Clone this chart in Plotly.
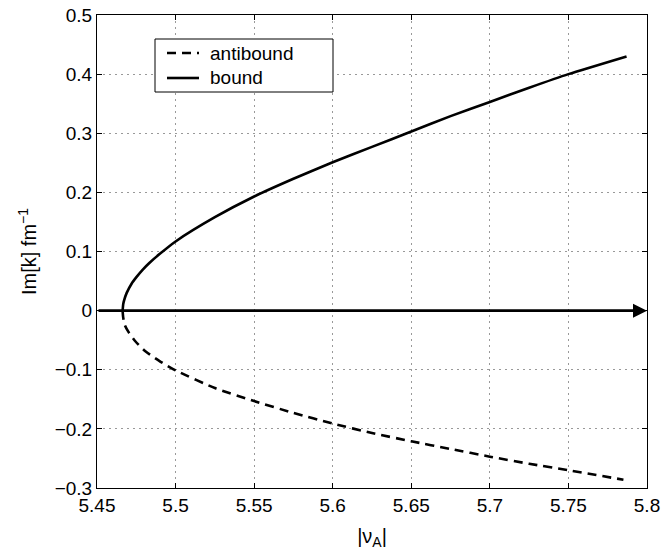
import plotly.graph_objects as go

# Bound-state branch: |nu_A| versus Im[k] (fm^-1)
bound_nu = [5.4663, 5.4667, 5.4672, 5.4689, 5.4721, 5.4752, 5.4790, 5.4833,
            5.4900, 5.5000, 5.5250, 5.5500, 5.5750, 5.6000, 5.6250, 5.6500,
            5.6750, 5.7000, 5.7250, 5.7500, 5.7870]
bound_im = [0.000, 0.011, 0.017, 0.030, 0.046, 0.057, 0.069, 0.0805,
            0.096, 0.117, 0.158, 0.193, 0.223, 0.251, 0.277, 0.303,
            0.329, 0.353, 0.377, 0.400, 0.430]

# Antibound branch
antibound_nu = [5.4663, 5.4666, 5.4671, 5.4678, 5.4705, 5.4741, 5.4800, 5.4896,
                5.5000, 5.5250, 5.5500, 5.5750, 5.6000, 5.6250, 5.6500, 5.6750,
                5.7000, 5.7250, 5.7500, 5.7850]
antibound_im = [0.000, -0.010, -0.018, -0.025, -0.038, -0.051, -0.067, -0.085,
                -0.101, -0.131, -0.153, -0.173, -0.191, -0.207, -0.221, -0.234,
                -0.247, -0.259, -0.270, -0.286]

x_ticks = [5.45, 5.5, 5.55, 5.6, 5.65, 5.7, 5.75, 5.8]
y_ticks = [-0.3, -0.2, -0.1, 0, 0.1, 0.2, 0.3, 0.4, 0.5]
x_range = [5.45, 5.8]
y_range = [-0.3, 0.5]

FONT = "Liberation Sans, Arial, Helvetica, sans-serif"
fs = 19

def fmt(v):
    return ("%g" % v).replace("-", "\u2212")

fig = go.Figure()
fig.add_trace(go.Scatter(x=antibound_nu, y=antibound_im, mode="lines",
                         line=dict(color="black", width=2.6, dash="9px,6px",
                                   shape="spline", smoothing=0.6),
                         showlegend=False))
fig.add_trace(go.Scatter(x=bound_nu, y=bound_im, mode="lines",
                         line=dict(color="black", width=2.6, shape="spline", smoothing=0.6),
                         showlegend=False))

# Real axis drawn as an arrow along Im[k] = 0
fig.add_annotation(x=x_range[1], y=0, ax=x_range[0], ay=0, xref="x", yref="y",
                   axref="x", ayref="y", text="", showarrow=True,
                   arrowhead=2, arrowsize=1.0, arrowwidth=2.8, arrowcolor="black")

# Legend box, placed in pixel units of the figure
W, H = 664, 553
L, R, T, B = 97, 17, 15, 65
pw, ph = W - L - R, H - T - B

def px(x):
    return (x - L) / pw

def py(y):
    return 1 - (y - T) / ph

lx0, lx1, ly0, ly1 = 155, 333, 39, 92
fig.add_shape(type="rect", xref="paper", yref="paper",
              x0=px(lx0), x1=px(lx1), y0=py(ly1), y1=py(ly0),
              line=dict(color="black", width=1), fillcolor="white", layer="above")
legend_items = [("antibound", "9px,6px", 53), ("bound", "solid", 78)]
for name, dash, yy in legend_items:
    fig.add_shape(type="line", xref="paper", yref="paper",
                  x0=px(167), x1=px(199), y0=py(yy), y1=py(yy),
                  line=dict(color="black", width=2.6, dash=dash), layer="above")
    fig.add_annotation(x=px(208), y=py(yy), xref="paper", yref="paper",
                       text=name, showarrow=False, xanchor="left", yanchor="middle",
                       font=dict(family=FONT, size=fs, color="black"))

axis_common = dict(showline=True, linecolor="black", linewidth=1, mirror="ticks",
                   ticks="inside", ticklen=5, tickcolor="black", tickwidth=1,
                   showgrid=True, gridcolor="#999999", griddash="2px,4px", gridwidth=1,
                   zeroline=False, tickfont=dict(family=FONT, size=fs, color="black"))

fig.update_xaxes(range=x_range, tickvals=x_ticks, ticktext=[fmt(v) for v in x_ticks],
                 title=dict(text="|\u03bd<sub>A</sub>|",
                            font=dict(family=FONT, size=20, color="black"), standoff=14),
                 **axis_common)
fig.update_yaxes(range=y_range, tickvals=y_ticks, ticktext=[fmt(v) for v in y_ticks],
                 title=dict(text="Im[k] fm<sup>\u22121</sup>",
                            font=dict(family=FONT, size=20, color="black"), standoff=12),
                 **axis_common)

fig.update_layout(width=W, height=H, margin=dict(l=L, r=R, t=T, b=B, autoexpand=False),
                  paper_bgcolor="white", plot_bgcolor="white",
                  font=dict(family=FONT, size=fs, color="black"))

fig.write_html("out.html")
